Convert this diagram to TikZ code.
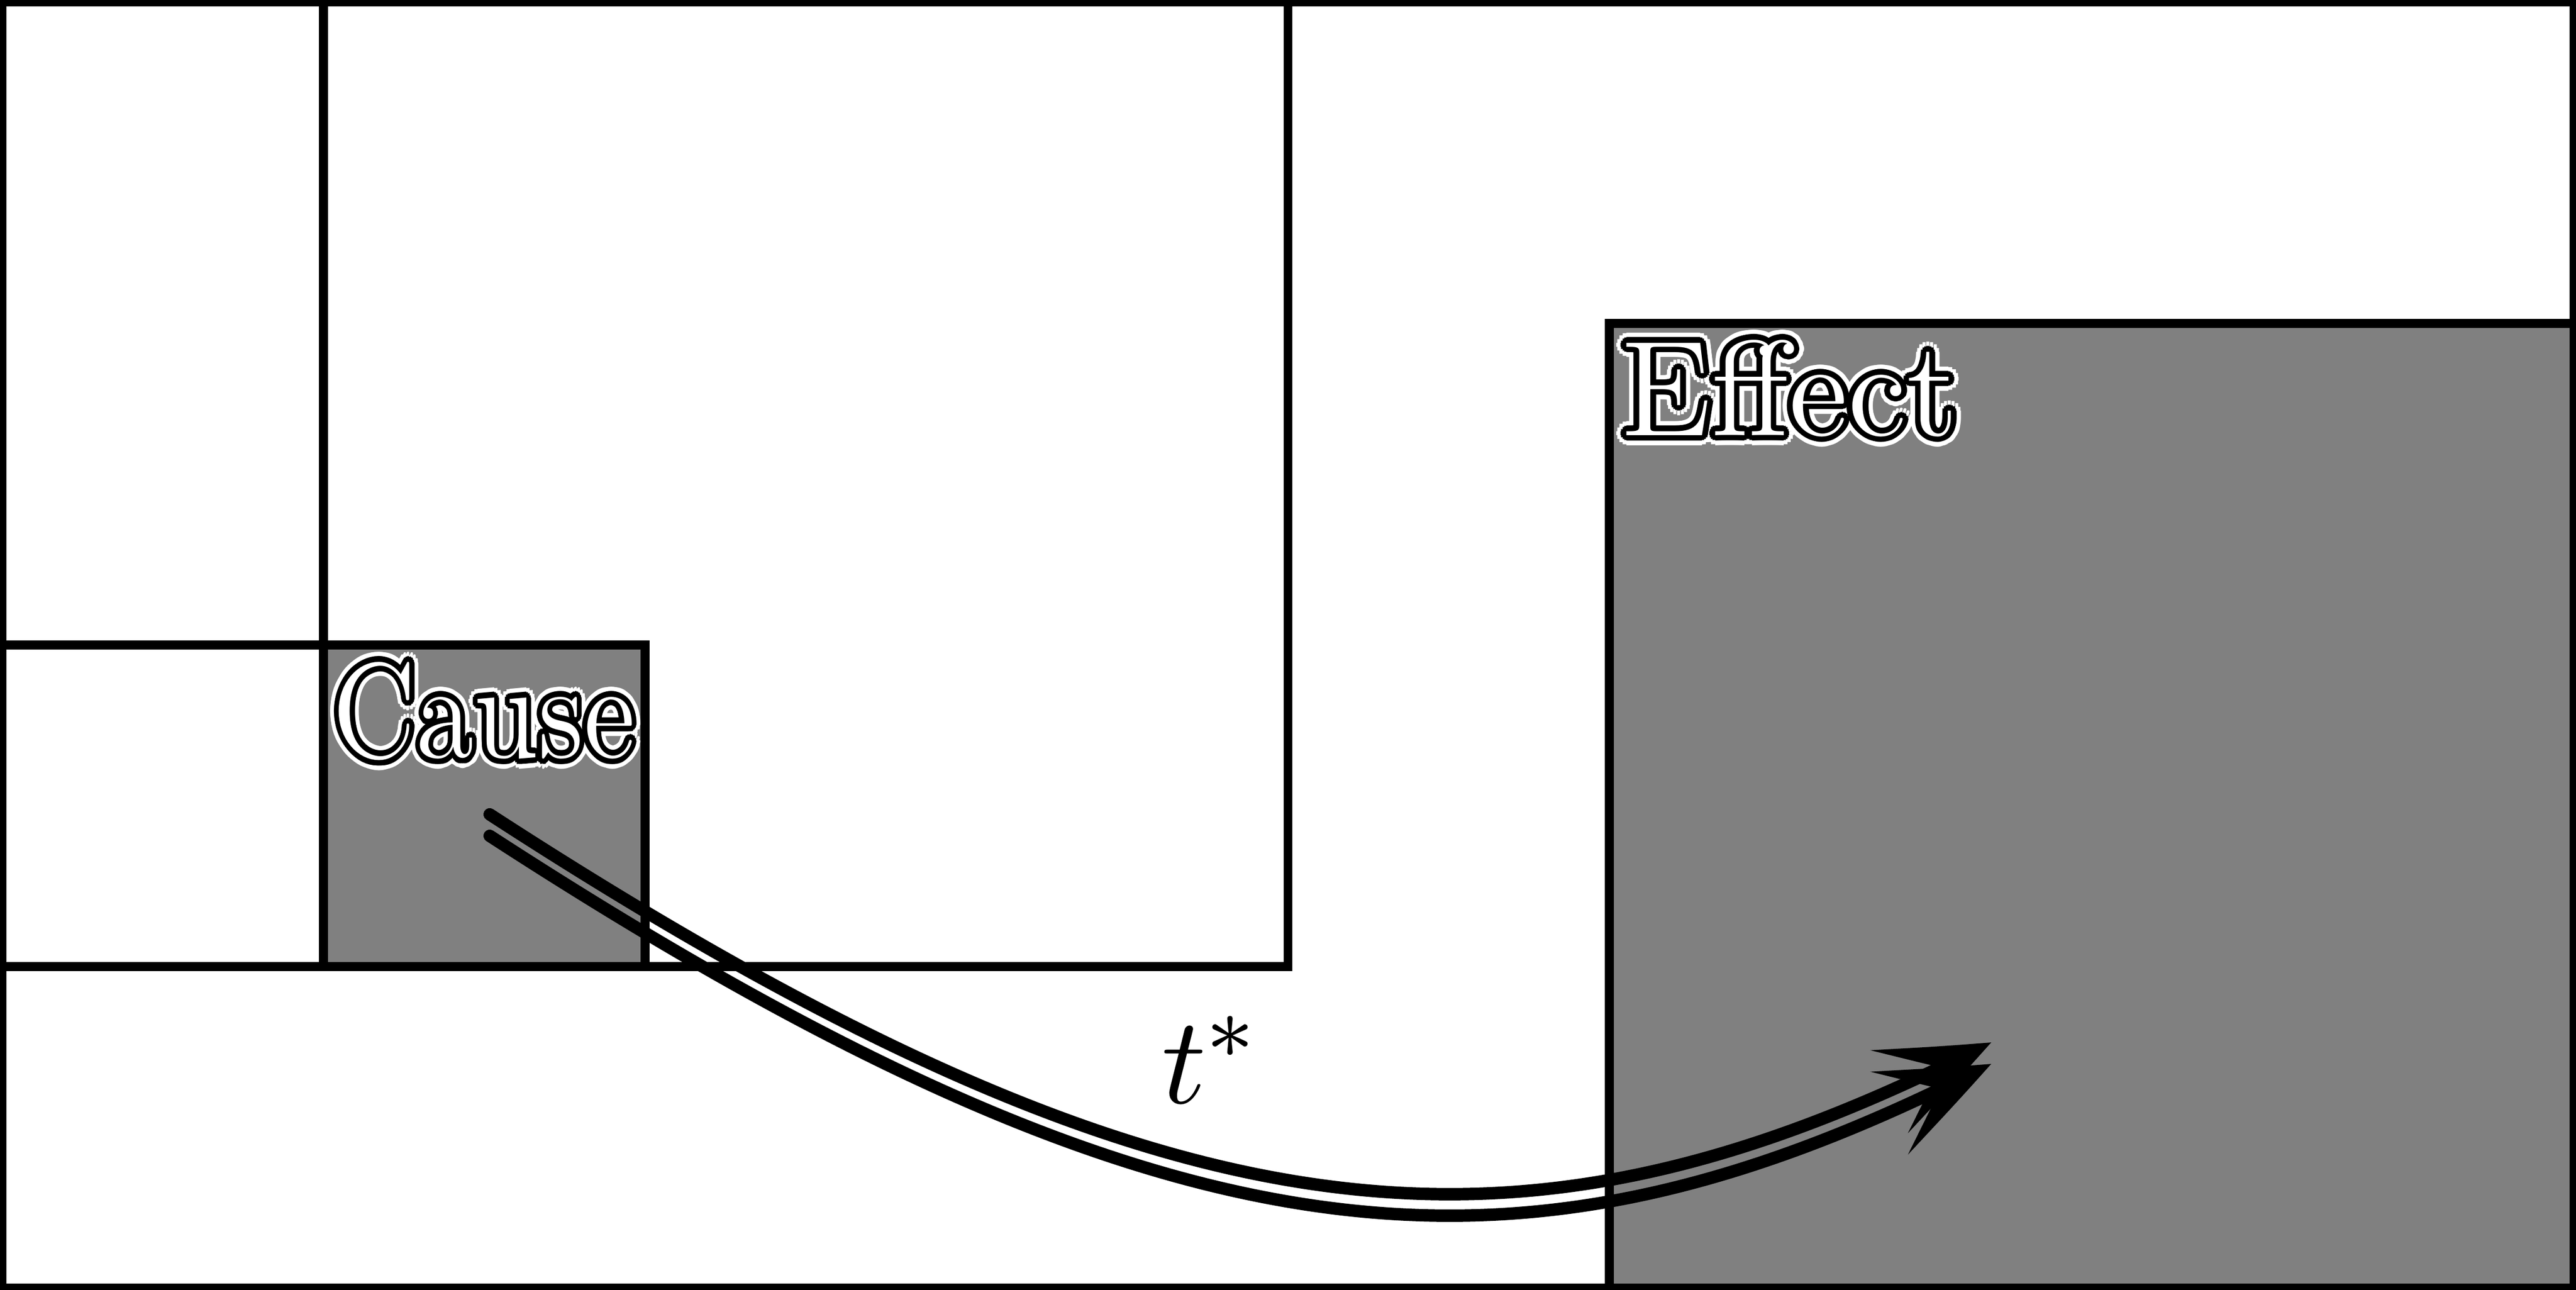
\documentclass[tikz,border=0pt]{standalone}
\usepackage{tikz}
\usepackage{contour}
\usetikzlibrary{arrows.meta, bending}

% white letters, thin black rim, white halo
\newcommand{\outlined}[1]{\rlap{\contourlength{0.9pt}\contour{white}{#1}}\contourlength{0.5pt}\contour{black}{\textcolor{white}{#1}}}

\begin{document}
\begin{tikzpicture}[line width=0.8pt,
		region/.style={draw=black},
		event/.style={draw=black, fill=gray},
		tag/.style={inner sep=0pt, anchor=base west, font=\large},
		timelabel/.style={inner sep=0pt, font=\fontsize{11}{13}\selectfont},
		causal/.style={line width=1.1pt, line cap=round, -{Stealth[length=10pt, width=8pt, inset=5pt, bend]}}]
		\useasboundingbox (-0.006,-0.006) rectangle (8.006,4.006);
		% regions
		\draw[region] (0,0) rectangle (8,4);
		\draw[region] (1,1) rectangle (4,4);
		\draw[region] (0,1) rectangle (2,2);
		\draw[event] (1,1) rectangle (2,2);
		\draw[event] (5,0) rectangle (8,3);
		% labels
		\node[tag] (cause) at (1.015,1.65) {\scalebox{0.87}[1]{\outlined{Cause}}};
		\node[tag] (effect) at (5.022,2.652) {\outlined{Effect}};
		% arrow
		\coordinate (src) at (1.517,1.473);
		\coordinate (dst) at (6.187,0.764);
		\foreach \s in {0pt,-1.9pt}
			\draw[causal] ([yshift=\s]src) to[out=-33, in=207, out distance=2.6cm, in distance=1.6cm] ([yshift=\s]dst);
		\node[timelabel] (delay) at (3.76,0.71) {$t^*$};
	\end{tikzpicture}
\end{document}
